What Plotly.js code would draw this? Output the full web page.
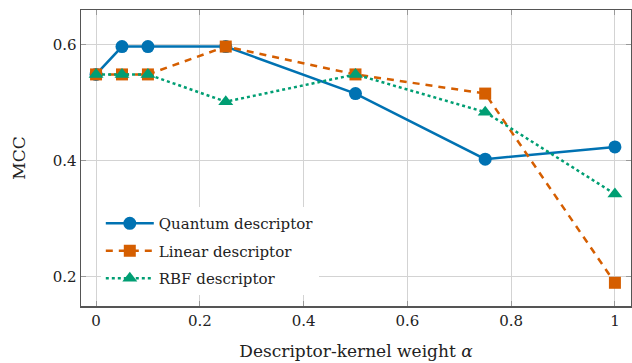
<!DOCTYPE html>
<html><head><meta charset="utf-8">
<script src="https://cdn.plot.ly/plotly-3.0.1.min.js"></script>
<style>html,body{margin:0;padding:0;background:#fff}#chart{width:632px;height:363px}</style>
</head><body><div id="chart"></div>
<script>
const alphas = [0, 0.05, 0.1, 0.25, 0.5, 0.75, 1];
const quantumMCC = [0.549, 0.597, 0.597, 0.597, 0.516, 0.403, 0.424];
const linearMCC  = [0.549, 0.549, 0.549, 0.597, 0.549, 0.516, 0.190];
const rbfMCC     = [0.549, 0.549, 0.549, 0.502, 0.549, 0.484, 0.343];
const seriesNames = ['Quantum descriptor', 'Linear descriptor', 'RBF descriptor'];
const xTicks = [0, 0.2, 0.4, 0.6, 0.8, 1];
const xTickText = ['0', '0.2', '0.4', '0.6', '0.8', '1'];
const yTicks = [0.2, 0.4, 0.6];
const yTickText = ['0.2', '0.4', '0.6'];

const FONT = 'DejaVu Serif';
const tf = {family: FONT, size: 15, color: '#222'};
const traces = [
  {x: alphas, y: quantumMCC, name: seriesNames[0], mode: 'lines+markers', legendgroup: 'a',
   line: {color: '#0072B2', width: 2.5, dash: 'solid'},
   marker: {symbol: 'circle', size: 13, color: '#0072B2'}},
  {x: alphas, y: linearMCC, name: seriesNames[1], mode: 'lines+markers', legendgroup: 'b',
   line: {color: '#D55E00', width: 2.5, dash: '7px,6px'},
   marker: {symbol: 'square', size: 12, color: '#D55E00'}},
  {x: alphas, y: rbfMCC, name: seriesNames[2], mode: 'lines+markers', legendgroup: 'c',
   line: {color: '#009E73', width: 2.5, dash: 'dot'},
   marker: {symbol: 'triangle-up', size: 13, color: '#009E73'}}
];
const layout = {
  width: 632, height: 363,
  margin: {l: 81, r: 1, t: 10, b: 57},
  paper_bgcolor: '#fff', plot_bgcolor: '#fff',
  font: tf,
  showlegend: true,
  legend: {x: 0.036, y: 0.037, xanchor: 'left', yanchor: 'bottom',
           bgcolor: '#fff', borderwidth: 0, font: tf,
           tracegroupgap: 5, itemwidth: 48},
  xaxis: {range: [-0.029, 1.031], tickvals: xTicks, ticktext: xTickText, tickfont: tf,
          showgrid: true, gridcolor: '#d3d3d3', gridwidth: 1,
          zeroline: false, showline: true, linecolor: '#555', linewidth: 1.5,
          mirror: 'ticks', ticks: 'inside', ticklen: 5, tickcolor: '#999',
          title: {text: 'Descriptor-kernel weight <i>α</i>', font: {family: FONT, size: 17, color: '#222'}, standoff: 16}},
  yaxis: {range: [0.15, 0.66], tickvals: yTicks, ticktext: yTickText, tickfont: tf,
          showgrid: true, gridcolor: '#d3d3d3', gridwidth: 1,
          zeroline: false, showline: true, linecolor: '#555', linewidth: 1.5,
          mirror: 'ticks', ticks: 'inside', ticklen: 5, tickcolor: '#999',
          title: {text: 'MCC', font: {family: FONT, size: 17, color: '#222'}, standoff: 22}}
};
Plotly.newPlot('chart', traces, layout, {displayModeBar: false, staticPlot: true});
</script></body></html>
